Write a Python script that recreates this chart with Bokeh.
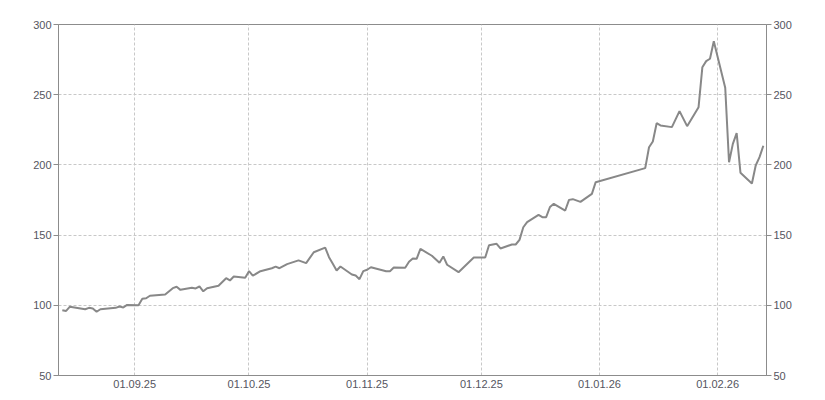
from datetime import datetime
import pandas as pd
from bokeh.plotting import figure
from bokeh.models import (Range1d, LinearAxis, DatetimeTickFormatter, MonthsTicker,
                          SingleIntervalTicker, ColumnDataSource)
from bokeh.embed import file_html
from bokeh.resources import INLINE

dates = [
    "2025-08-13", "2025-08-14", "2025-08-15", "2025-08-19", "2025-08-20", "2025-08-21",
    "2025-08-22", "2025-08-23", "2025-08-27", "2025-08-28", "2025-08-29", "2025-08-30",
    "2025-09-02", "2025-09-03", "2025-09-04", "2025-09-05", "2025-09-09", "2025-09-11",
    "2025-09-12", "2025-09-13", "2025-09-16", "2025-09-17", "2025-09-18", "2025-09-19",
    "2025-09-20", "2025-09-23", "2025-09-25", "2025-09-26", "2025-09-27", "2025-09-30",
    "2025-10-01", "2025-10-02", "2025-10-04", "2025-10-07", "2025-10-08", "2025-10-09",
    "2025-10-11", "2025-10-14", "2025-10-16", "2025-10-18", "2025-10-21", "2025-10-22",
    "2025-10-23", "2025-10-24", "2025-10-25", "2025-10-28", "2025-10-29", "2025-10-30",
    "2025-10-31", "2025-11-01", "2025-11-02", "2025-11-06", "2025-11-07", "2025-11-08",
    "2025-11-11", "2025-11-12", "2025-11-13", "2025-11-14", "2025-11-15", "2025-11-18",
    "2025-11-20", "2025-11-21", "2025-11-22", "2025-11-25", "2025-11-29", "2025-12-02",
    "2025-12-03", "2025-12-05", "2025-12-06", "2025-12-09", "2025-12-10", "2025-12-11",
    "2025-12-12", "2025-12-13", "2025-12-16", "2025-12-17", "2025-12-18", "2025-12-19",
    "2025-12-20", "2025-12-23", "2025-12-24", "2025-12-25", "2025-12-27", "2025-12-30",
    "2025-12-31", "2026-01-13", "2026-01-14", "2026-01-15", "2026-01-16", "2026-01-17",
    "2026-01-20", "2026-01-22", "2026-01-24", "2026-01-27", "2026-01-28", "2026-01-29",
    "2026-01-30", "2026-01-31", "2026-02-03", "2026-02-04", "2026-02-05", "2026-02-06",
    "2026-02-07", "2026-02-10", "2026-02-11", "2026-02-12", "2026-02-13",
]
values = [
    96.5, 96.0, 99.0, 97.2, 98.2, 97.7,
    95.4, 97.2, 98.2, 99.1, 98.4, 100.3,
    100.1, 104.6, 105.0, 106.8, 107.7, 112.2,
    113.2, 111.0, 112.5, 112.0, 113.4, 110.0,
    112.2, 113.9, 119.3, 117.7, 120.5, 119.6,
    124.3, 121.1, 124.3, 126.4, 127.6, 126.4,
    129.3, 132.0, 130.0, 137.8, 141.1, 134.3,
    129.6, 124.8, 127.6, 121.9, 121.2, 118.6,
    124.3, 125.3, 127.1, 124.3, 124.3, 126.9,
    126.7, 131.0, 133.3, 133.1, 140.2, 135.3,
    130.3, 134.8, 128.9, 123.6, 134.0, 134.0,
    142.8, 143.8, 140.5, 143.3, 143.3, 146.6,
    155.6, 159.2, 164.4, 162.8, 162.8, 170.0,
    172.3, 167.5, 175.1, 175.6, 173.7, 179.4,
    187.7, 197.7, 212.6, 216.7, 229.7, 228.1,
    226.9, 238.3, 227.6, 241.1, 269.6, 273.9,
    275.6, 288.1, 254.9, 201.9, 215.0, 222.6,
    194.4, 186.7, 199.6, 205.5, 213.6,
]

src = ColumnDataSource(dict(x=pd.to_datetime(dates), y=values))

FONT = "Liberation Sans"
TXT = "#555560"
AX = "#8c8c8c"
GRID = "#c8c8c8"

p = figure(width=816, height=392, x_axis_type="datetime",
           x_range=Range1d(datetime(2025, 8, 12, 0), datetime(2026, 2, 13, 20)),
           y_range=Range1d(50, 300),
           output_backend="svg", toolbar_location=None,
           min_border_left=58, min_border_right=50, min_border_top=24, min_border_bottom=17,
           y_axis_location="left")
p.outline_line_color = AX
p.outline_line_width = 1
p.background_fill_color = "white"
p.border_fill_color = "white"

p.line("x", "y", source=src, line_color="#888888", line_width=2)

# x axis
xa = p.xaxis[0]
xa.ticker = MonthsTicker(months=list(range(12)))
xa.formatter = DatetimeTickFormatter(days="%d.%m.%y", months="%d.%m.%y", years="%d.%m.%y")
xa.major_tick_out = 0
xa.major_tick_in = 0
xa.minor_tick_out = 0
xa.minor_tick_in = 0
xa.major_label_standoff = 4

# y axes
ya = p.yaxis[0]
ya.ticker = SingleIntervalTicker(interval=50)
ra = LinearAxis(ticker=SingleIntervalTicker(interval=50))
p.add_layout(ra, "right")

for ax in (xa, ya, ra):
    ax.axis_line_color = AX
    ax.major_tick_line_color = AX
    ax.minor_tick_line_color = None
    ax.major_label_text_font = FONT
    ax.major_label_text_font_size = "11px"
    ax.major_label_text_color = TXT
for ax in (ya, ra):
    ax.major_tick_out = 5
    ax.major_tick_in = 0
    ax.major_label_standoff = 2

p.xgrid.ticker = xa.ticker
p.ygrid.ticker = ya.ticker
for g in (p.xgrid[0], p.ygrid[0]):
    g.grid_line_color = GRID
    g.grid_line_dash = "3 2"
    g.grid_line_width = 1

open("out.html", "w").write(file_html(p, INLINE))
